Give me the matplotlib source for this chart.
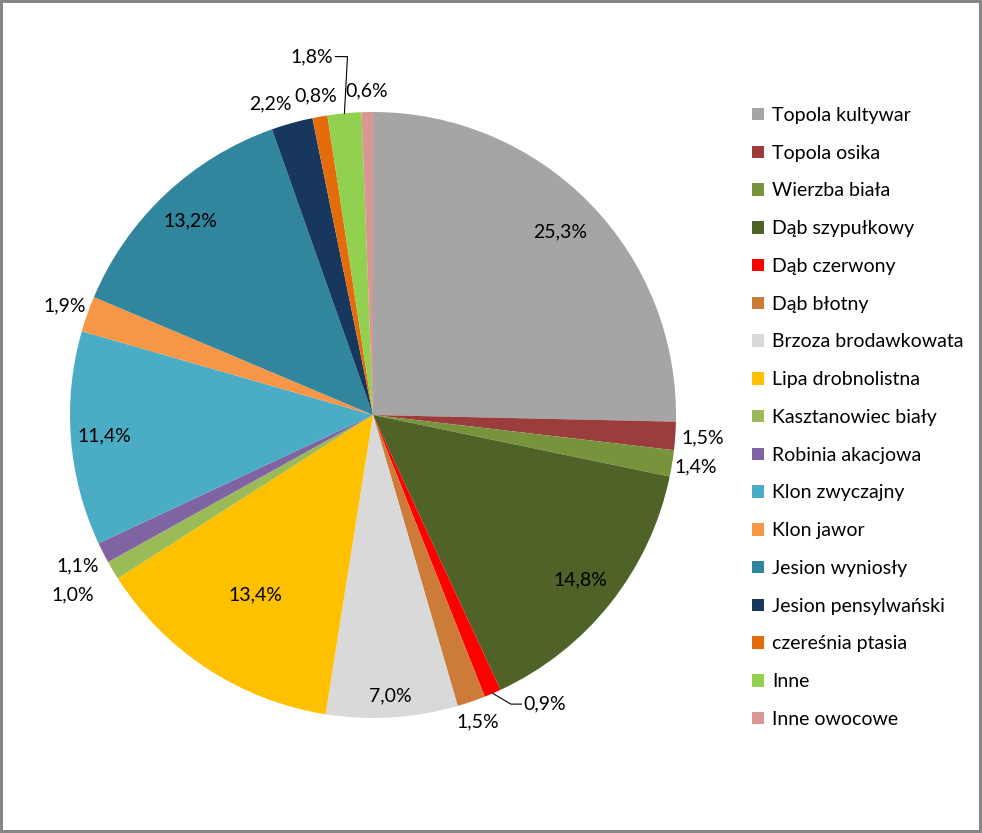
import numpy as np
import matplotlib
matplotlib.use("Agg")
import matplotlib.pyplot as plt

plt.rcParams['font.family'] = ['Lato', 'DejaVu Sans']

species = ["Topola kultywar", "Topola osika", "Wierzba biała", "Dąb szypułkowy",
           "Dąb czerwony", "Dąb błotny", "Brzoza brodawkowata", "Lipa drobnolistna",
           "Kasztanowiec biały", "Robinia akacjowa", "Klon zwyczajny", "Klon jawor",
           "Jesion wyniosły", "Jesion pensylwański", "czereśnia ptasia", "Inne",
           "Inne owocowe"]
shares = [25.3, 1.5, 1.4, 14.8, 0.9, 1.5, 7.0, 13.4, 1.0, 1.1, 11.4, 1.9,
          13.2, 2.2, 0.8, 1.8, 0.6]
colors = ["#A5A5A5", "#9B3D3D", "#77933C", "#4F6228", "#FF0000", "#CD7B38",
          "#D9D9D9", "#FFC000", "#9BBB59", "#8064A2", "#4BACC6", "#F79646",
          "#31859C", "#17375E", "#E46C0A", "#92D050", "#DA9694"]

# label placement: radial distance (in radii) and optional angle shift (deg)
lab_dist = [0.865, 1.09, 1.08, 0.875, 1.107, 1.07, 0.93, 0.71, 1.155, 1.095,
            0.89, 1.08, 0.88, 1.083, 1.07, 1.20, 1.07]
lab_shift = [0, 0, 0, 0, 7.2, 0, 0, 0, 0, 0, 0, 0, 0, 2.8, 0, 4.3, 0]
leader = [4, 15]

W, H = 982, 833
fig = plt.figure(figsize=(W / 100, H / 100), dpi=100)
fig.patch.set_edgecolor("#868686")
fig.patch.set_linewidth(3)

cx, cy, R = 373, 415, 303
ax = fig.add_axes([(cx - R) / W, (H - cy - R) / H, 2 * R / W, 2 * R / H])
wedges, _ = ax.pie(shares, colors=colors, startangle=90, counterclock=False,
                   radius=1, wedgeprops=dict(linewidth=0))
ax.set_xlim(-1, 1)
ax.set_ylim(-1, 1)
ax.set_aspect("equal")
ax.axis("off")

fs = 14
for i, w in enumerate(wedges):
    mid = (w.theta1 + w.theta2) / 2
    txt = f"{shares[i]:.1f}%".replace(".", ",")
    ang = np.deg2rad(mid + lab_shift[i])
    x, y = lab_dist[i] * np.cos(ang), lab_dist[i] * np.sin(ang)
    if i in leader:
        ex, ey = np.cos(np.deg2rad(mid)), np.sin(np.deg2rad(mid))
        if x > ex:
            tx = ex + 0.095
            ax.plot([ex, ex + 0.06, tx], [ey, y, y], color="black", lw=0.8,
                    clip_on=False)
            ax.text(tx + 0.005, y, txt, ha="left", va="center", fontsize=fs)
        else:
            tx = ex - 0.03
            ax.plot([ex, ex + 0.01, tx], [ey, y, y], color="black", lw=0.8,
                    clip_on=False)
            ax.text(tx - 0.008, y, txt, ha="right", va="center", fontsize=fs)
    else:
        ax.text(x, y, txt, ha="center", va="center", fontsize=fs)

fig.legend(wedges, species, loc="upper left",
           bbox_to_anchor=(752 / W, 1 - 107 / H), frameon=False,
           fontsize=fs, handlelength=0.62, handleheight=0.62,
           handletextpad=0.42, labelspacing=1.067, borderpad=0, borderaxespad=0)

fig.savefig("out.png", dpi=100)
